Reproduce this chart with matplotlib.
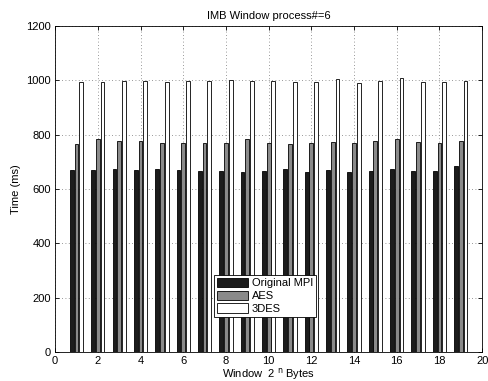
import numpy as np
import matplotlib
matplotlib.use("Agg")
import matplotlib.pyplot as plt

plt.rcParams['font.family'] = ['Liberation Sans', 'DejaVu Sans']

windows = list(range(1, 20))
original_mpi = [671, 671, 673, 671, 672, 671, 666, 667, 663, 666,
                674, 664, 669, 664, 667, 672, 667, 667, 683]
aes = [766, 785, 775, 775, 771, 770, 770, 770, 785, 769,
       767, 768, 774, 769, 778, 785, 773, 770, 775]
des3 = [993, 993, 999, 999, 995, 999, 996, 1001, 999, 996,
        994, 993, 1006, 990, 998, 1007, 993, 993, 998]

series = [("Original MPI", original_mpi, "#1c1c1c"),
          ("AES", aes, "#8a8a8a"),
          ("3DES", des3, "#ffffff")]

fig = plt.figure(figsize=(4.88, 3.81), dpi=100)
ax = fig.add_axes([0.113, 0.076, 0.875, 0.856])

x = np.array(windows, dtype=float)
offsets = [-0.222, 0.0, 0.222]
width = 0.178
for (label, vals, color), off in zip(series, offsets):
    ax.bar(x + off, vals, width=width, color=color, edgecolor="black",
           linewidth=0.6, label=label, zorder=3)

ax.set_xlim(0, 20)
ax.set_ylim(0, 1200)
ax.set_xticks(range(0, 21, 2))
ax.set_yticks(range(0, 1201, 200))
ax.grid(True, linestyle=(0, (1, 3)), color="#777777", linewidth=0.6, zorder=0)
ax.set_axisbelow(True)
ax.tick_params(direction="in", top=True, right=True, labelsize=8,
               length=3, width=0.6, pad=3)
for s in ax.spines.values():
    s.set_linewidth(0.6)

ax.set_title("IMB Window process#=6", fontsize=8, pad=5)
ax.set_xlabel("Window  2 $^{\\rm n}$ Bytes", fontsize=8, labelpad=0)
ax.set_ylabel("Time (ms)", fontsize=8, labelpad=4)

leg = ax.legend(loc="lower left", bbox_to_anchor=(0.372, 0.107),
                fontsize=8, fancybox=False, edgecolor="black",
                framealpha=1, handlelength=2.8, handleheight=0.9,
                borderpad=0.3, labelspacing=0.2, handletextpad=0.3,
                borderaxespad=0)
leg.get_frame().set_linewidth(0.6)

fig.savefig("out.png", dpi=100)
